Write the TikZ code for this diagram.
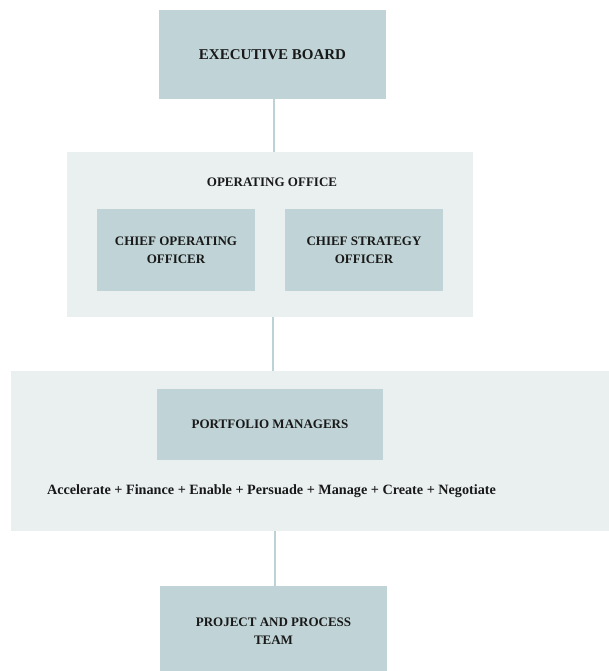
\documentclass[tikz,border=0pt]{standalone}
\usepackage{fontspec}
\setmainfont{Liberation Serif}
\definecolor{boxfill}{RGB}{192,212,215}
\definecolor{panelfill}{RGB}{234,240,240}
\definecolor{linkcol}{RGB}{188,210,214}
\definecolor{inkcol}{RGB}{25,25,25}
\begin{document}
\begin{tikzpicture}[x=1pt,y=-1pt,
  unit/.style={fill=boxfill,inner sep=0pt,align=center,text=inkcol,font=\bfseries\fontsize{13}{18}\selectfont},
  panel/.style={fill=panelfill,inner sep=0pt},
  caption/.style={text=inkcol,inner sep=0pt,font=\bfseries\fontsize{13}{18}\selectfont},
  link/.style={draw=linkcol,line width=2pt}]
\useasboundingbox (0,0) rectangle (609,671);
\clip (0,0) rectangle (609,671);

% top
\node[unit,minimum width=227pt,minimum height=89pt,font=\bfseries\fontsize{15}{18}\selectfont] (board) at (272.5,54.5) {EXECUTIVE BOARD};

% operating office
\node[panel,minimum width=406pt,minimum height=165pt] (office) at (270,234.5) {};
\node[caption] (officetitle) at (272,182) {OPERATING OFFICE};
\node[unit,minimum width=158pt,minimum height=82pt] (coo) at (176,250) {CHIEF OPERATING\\OFFICER};
\node[unit,minimum width=158pt,minimum height=82pt] (cso) at (364,250) {CHIEF STRATEGY\\OFFICER};

% portfolio
\node[panel,minimum width=598pt,minimum height=160pt] (portfolio) at (310,451) {};
\node[unit,minimum width=226pt,minimum height=71pt] (managers) at (270,424.5) {PORTFOLIO MANAGERS};
\node[caption,font=\bfseries\fontsize{14.2}{18}\selectfont] (roles) at (271.5,491.5) {Accelerate + Finance + Enable + Persuade + Manage + Create + Negotiate};

% bottom
\node[unit,minimum width=227pt,minimum height=90pt] (team) at (273.5,631) {PROJECT AND PROCESS\\TEAM};

\draw[link] (board.south -| 274,0) -- (office.north -| 274,0);
\draw[link] (office.south -| 273,0) -- (portfolio.north -| 273,0);
\draw[link] (portfolio.south -| 275,0) -- (team.north -| 275,0);

\end{tikzpicture}
\end{document}
